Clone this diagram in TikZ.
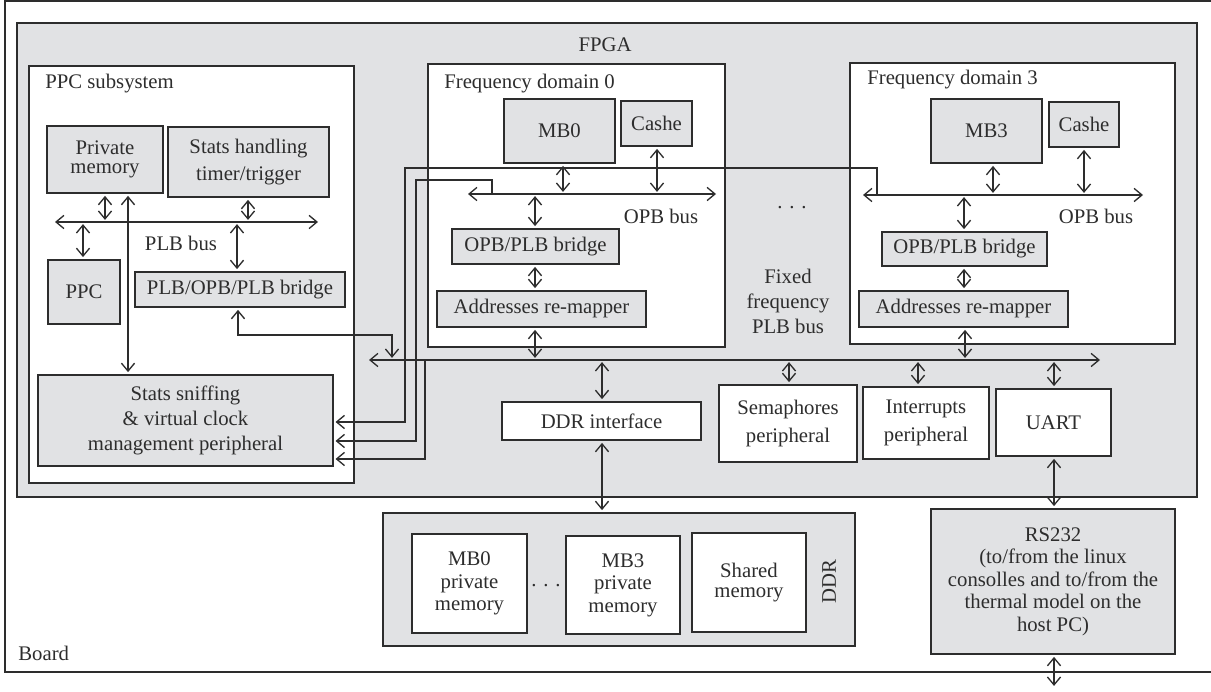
\documentclass[tikz,border=0pt]{standalone}
\usepackage{fontspec}
\setmainfont{Liberation Serif}
\usetikzlibrary{arrows.meta}
\definecolor{gfill}{RGB}{225,226,228}
\definecolor{lcol}{RGB}{45,45,45}
\newcommand\bx[7]{\node[#6,inner sep=0pt,minimum width={(#4-#2)*0.02cm},minimum height={(#5-#3)*0.02cm}] (#1) at ({(#2+#4)/2},{(#3+#5)/2}) {#7};}
\begin{document}
\begin{tikzpicture}[x=0.02cm,y=-0.02cm,
  every node/.style={font=\fontsize{11.8}{14}\selectfont, text=lcol},
  lbl/.style={inner sep=0pt},
  frame/.style={draw=lcol,line width=0.9pt},
  gbox/.style={frame,fill=gfill,align=center},
  wbox/.style={frame,fill=white,align=center},
  conn/.style={draw=lcol,line width=0.75pt},
  bus/.style={conn,{Straight Barb[length=4.5pt,width=7.5pt]}-{Straight Barb[length=4.5pt,width=7.5pt]}},
  dbl/.style={bus,shorten <=1.2pt,shorten >=1.2pt},
  sgl/.style={conn,-{Straight Barb[length=4.5pt,width=7.5pt]},shorten >=1pt},
]
\useasboundingbox (0,0) rectangle (1211,692);
% containers
\bx{board}{5}{1}{1260}{672}{frame}{}
\node[lbl,anchor=base west] (boardl) at (18,660) {Board};
\bx{fpga}{17}{23}{1197}{497}{gbox}{}
\node[lbl,anchor=base] (fpgal) at (605,52) {FPGA};
% PPC subsystem
\bx{ppcsub}{29}{66}{354}{483}{wbox}{}
\node[lbl,anchor=base west] (ppcsubl) at (45,89) {PPC subsystem};
\bx{pm}{47}{126}{163}{193}{gbox,font=\fontsize{11.8}{11}\selectfont}{Private\\memory}
\bx{sth}{168}{127}{329}{197}{gbox,font=\fontsize{11.8}{15}\selectfont}{Stats handling\\timer/trigger}
\bx{ppc}{48}{260}{120}{324}{gbox}{PPC}
\bx{plbbr}{135}{272}{345}{307}{gbox}{PLB/OPB/PLB bridge}
\node[lbl] (plbl) at (181,243) {PLB bus};
\bx{sniff}{38}{375}{333}{466}{gbox,font=\fontsize{11.8}{14.2}\selectfont}{Stats sniffing\\\& virtual clock\\management peripheral}
% Frequency domain 0
\bx{fd0}{428}{64}{725}{347}{wbox}{}
\node[lbl,anchor=base west] (fd0l) at (444,89) {Frequency domain 0};
\bx{mb0}{504}{99}{615}{163}{gbox}{MB0}
\bx{ca0}{621}{101}{692}{146}{gbox}{Cashe}
\node[lbl] (opb0l) at (661,216) {OPB bus};
\bx{br0}{452}{229}{619}{264}{gbox}{OPB/PLB bridge}
\bx{rm0}{437}{291}{646}{327}{gbox}{Addresses re-mapper}
% Frequency domain 3
\bx{fd3}{850}{63}{1175}{344}{wbox}{}
\node[lbl,anchor=base west] (fd3l) at (867,85) {Frequency domain 3};
\bx{mb3}{931}{99}{1042}{163}{gbox}{MB3}
\bx{ca3}{1049}{102}{1119}{147}{gbox}{Cashe}
\node[lbl] (opb3l) at (1096,216) {OPB bus};
\bx{br3}{882}{232}{1047}{266}{gbox}{OPB/PLB bridge}
\bx{rm3}{859}{291}{1068}{327}{gbox}{Addresses re-mapper}
% middle
\node[lbl,anchor=base] (dots1) at (792,209) {. . .};
\node[lbl,align=center,font=\fontsize{11.8}{14.2}\selectfont] (ffl) at (788,301) {Fixed\\frequency\\PLB bus};
\bx{ddri}{502}{402}{701}{440}{wbox}{DDR interface}
\bx{sem}{719}{385}{857}{462}{wbox,font=\fontsize{11.8}{16}\selectfont}{Semaphores\\peripheral}
\bx{intr}{863}{387}{989}{459}{wbox,font=\fontsize{11.8}{16}\selectfont}{Interrupts\\peripheral}
\bx{uart}{996}{389}{1111}{456}{wbox}{UART}
% bottom
\bx{ddr}{383}{513}{855}{646}{gbox}{}
\bx{m0}{412}{534}{527}{633}{wbox,font=\fontsize{11.8}{12.8}\selectfont}{MB0\\private\\memory}
\bx{m3}{566}{536}{680}{634}{wbox,font=\fontsize{11.8}{12.8}\selectfont}{MB3\\private\\memory}
\bx{shm}{692}{533}{806}{632}{wbox,font=\fontsize{11.8}{11}\selectfont}{Shared\\memory}
\node[lbl,anchor=base] (dots2) at (546,586) {. . .};
\node[lbl,rotate=90] (ddrl) at (829,582) {DDR};
\bx{rs}{931}{509}{1175}{654}{gbox,font=\fontsize{11.8}{12.8}\selectfont}{RS232\\(to/from the linux\\consolles and to/from the\\thermal model on the\\host PC)}
% bus coordinates
\coordinate (plbL) at (55,222); \coordinate (plbR) at (318,222);
\coordinate (opb0L) at (468,194); \coordinate (opb0R) at (716,194);
\coordinate (opb3L) at (863,195); \coordinate (opb3R) at (1143,195);
\coordinate (mbL) at (369,360); \coordinate (mbR) at (1100,360);
\coordinate (ext) at (1054,688);
% PPC connectors
\draw[bus] (plbL) -- (plbR);
\draw[dbl] (pm.south-|105,0) -- (plbL-|105,0);
\draw[dbl] (pm.south-|128,0) -- (sniff.north-|128,0);
\draw[dbl] (sth.south-|248,0) -- (plbL-|248,0);
\draw[dbl] (plbL-|83,0) -- (ppc.north-|83,0);
\draw[dbl] (plbL-|237,0) -- (plbbr.north-|237,0);
\draw[dbl] (plbbr.south-|238,0) -- (238,335) -- (392,335) -- (mbL-|392,0);
% domain 0
\draw[bus] (opb0L) -- (opb0R);
\draw[dbl] (mb0.south-|563,0) -- (opb0L-|563,0);
\draw[dbl] (ca0.south-|657,0) -- (opb0L-|657,0);
\draw[dbl] (opb0L-|535,0) -- (br0.north-|535,0);
\draw[dbl] (br0.south-|535,0) -- (rm0.north-|535,0);
\draw[dbl] (rm0.south-|535,0) -- (mbL-|535,0);
% domain 3
\draw[bus] (opb3L) -- (opb3R);
\draw[dbl] (mb3.south-|993,0) -- (opb3L-|993,0);
\draw[dbl] (ca3.south-|1084,0) -- (opb3L-|1084,0);
\draw[dbl] (opb3L-|964,0) -- (br3.north-|964,0);
\draw[dbl] (br3.south-|964,0) -- (rm3.north-|964,0);
\draw[dbl] (rm3.south-|965,0) -- (mbL-|965,0);
% main bus
\draw[bus] (mbL) -- (mbR);
\draw[dbl] (mbL-|602,0) -- (ddri.north-|602,0);
\draw[dbl] (ddri.south-|602,0) -- (ddr.north-|602,0);
\draw[dbl] (mbL-|789,0) -- (sem.north-|789,0);
\draw[dbl] (mbL-|918,0) -- (intr.north-|918,0);
\draw[dbl] (mbL-|1054,0) -- (uart.north-|1054,0);
\draw[dbl] (uart.south-|1054,0) -- (rs.north-|1054,0);
\draw[dbl] (rs.south-|1054,0) -- (ext);
% sniffing lines
\draw[sgl] (opb3L-|877,0) -- (877,168) -- (405,168) -- (405,422) -- (sniff.east|-0,422);
\draw[sgl] (opb0L-|492,0) -- (492,180) -- (416,180) -- (416,441) -- (sniff.east|-0,441);
\draw[sgl] (mbL-|425,0) -- (425,459) -- (sniff.east|-0,459);
\end{tikzpicture}
\end{document}
